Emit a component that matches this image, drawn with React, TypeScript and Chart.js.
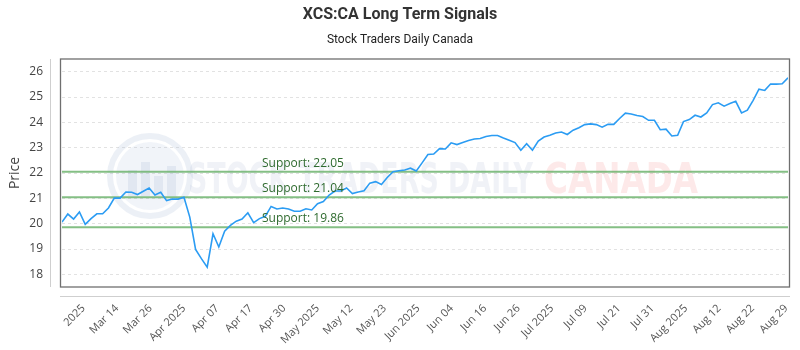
import React, { useEffect, useRef } from 'react';
import { Chart, registerables } from 'chart.js';

Chart.register(...registerables);

const chartTitle = 'XCS:CA Long Term Signals';
const chartSubtitle = 'Stock Traders Daily Canada';
const yAxisTitle = 'Price';

const priceValues = [
  20.06, 20.38, 20.18, 20.46, 19.97, 20.20, 20.39, 20.39, 20.62, 21.01,
  21.01, 21.25, 21.24, 21.15, 21.28, 21.41, 21.13, 21.24, 20.91, 20.97,
  20.97, 21.04, 20.26, 18.98, 18.62, 18.28, 19.60, 19.08, 19.70, 19.93,
  20.10, 20.18, 20.43, 20.04, 20.20, 20.29, 20.68, 20.58, 20.62, 20.58,
  20.49, 20.49, 20.59, 20.54, 20.79, 20.87, 21.13, 21.29, 21.29, 21.41,
  21.19, 21.25, 21.30, 21.60, 21.66, 21.55, 21.82, 22.05, 22.09, 22.12,
  22.19, 22.08, 22.40, 22.73, 22.75, 22.96, 22.95, 23.19, 23.12, 23.20,
  23.28, 23.34, 23.36, 23.44, 23.48, 23.48, 23.38, 23.29, 23.20, 22.90,
  23.16, 22.90, 23.26, 23.42, 23.49, 23.58, 23.62, 23.52, 23.69, 23.79,
  23.91, 23.94, 23.91, 23.81, 23.92, 23.92, 24.15, 24.36, 24.33, 24.27,
  24.23, 24.08, 24.08, 23.71, 23.73, 23.46, 23.49, 24.03, 24.11, 24.28,
  24.21, 24.37, 24.70, 24.77, 24.64, 24.74, 24.83, 24.37, 24.48, 24.87,
  25.31, 25.26, 25.51, 25.51, 25.52, 25.76,
];

const xTickLabels = [
  '2025', 'Mar 14', 'Mar 26', 'Apr 2025', 'Apr 07', 'Apr 17', 'Apr 30',
  'May 2025', 'May 12', 'May 23', 'Jun 2025', 'Jun 04', 'Jun 16', 'Jun 26',
  'Jul 2025', 'Jul 09', 'Jul 21', 'Jul 31', 'Aug 2025', 'Aug 12', 'Aug 22', 'Aug 29',
];

const yTickValues = [18, 19, 20, 21, 22, 23, 24, 25, 26];
const supportLevels = [22.05, 21.04, 19.86];

const Y_MIN = 17.5;
const Y_MAX = 26.5;
const FIRST_TICK_INDEX = 3.7;

export default function App() {
  const canvasRef = useRef<HTMLCanvasElement | null>(null);

  useEffect(() => {
    document.body.style.margin = '0';
    const canvas = canvasRef.current;
    if (!canvas) return;

    const lastIndex = priceValues.length - 1;
    const tickStep = (lastIndex - 0.3 - FIRST_TICK_INDEX) / (xTickLabels.length - 1);
    const xTickPositions = xTickLabels.map((_, i) => FIRST_TICK_INDEX + i * tickStep);

    const decorPlugin = {
      id: 'decor',
      beforeDatasetsDraw(chart: any) {
        const ctx = chart.ctx;
        const ca = chart.chartArea;
        ctx.save();
        ctx.beginPath();
        ctx.rect(ca.left, ca.top, ca.right - ca.left, ca.bottom - ca.top);
        ctx.clip();
        // watermark logo
        ctx.strokeStyle = 'rgba(170,185,215,0.22)';
        ctx.lineWidth = 6;
        ctx.beginPath();
        ctx.arc(150, 176, 40, 0, Math.PI * 2);
        ctx.stroke();
        ctx.fillStyle = 'rgba(170,185,215,0.16)';
        ctx.beginPath();
        ctx.arc(150, 176, 34, 0, Math.PI * 2);
        ctx.fill();
        ctx.fillStyle = 'rgba(170,185,215,0.22)';
        ctx.fillRect(128, 170, 9, 26);
        ctx.fillRect(141, 162, 9, 34);
        ctx.fillRect(154, 176, 9, 20);
        ctx.fillRect(167, 166, 9, 30);
        // watermark text
        ctx.font = 'bold 42px "Liberation Sans Narrow", "DejaVu Sans Condensed", sans-serif';
        ctx.textBaseline = 'alphabetic';
        ctx.textAlign = 'left';
        const t1 = 'STOCK TRADERS DAILY';
        const w1 = ctx.measureText(t1).width;
        ctx.save();
        ctx.translate(188, 193);
        ctx.scale(345 / w1, 1);
        ctx.fillStyle = 'rgba(180,192,215,0.2)';
        ctx.fillText(t1, 0, 0);
        ctx.restore();
        const t2 = 'CANADA';
        const w2 = ctx.measureText(t2).width;
        ctx.save();
        ctx.translate(544, 193);
        ctx.scale(154 / w2, 1);
        ctx.fillStyle = 'rgba(240,120,120,0.16)';
        ctx.fillText(t2, 0, 0);
        ctx.restore();
        ctx.restore();
      },
      afterDatasetsDraw(chart: any) {
        const ctx = chart.ctx;
        const y = chart.scales.y;
        ctx.save();
        ctx.font = '12px "Open Sans", sans-serif';
        ctx.fillStyle = '#2f6b2f';
        ctx.textAlign = 'left';
        ctx.textBaseline = 'alphabetic';
        supportLevels.forEach((lvl) => {
          const py = y.getPixelForValue(lvl);
          ctx.fillText('Support: ' + lvl.toFixed(2), 262, py - 5);
        });
        ctx.restore();
      },
      afterDraw(chart: any) {
        const ctx = chart.ctx;
        const ca = chart.chartArea;
        ctx.save();
        ctx.fillStyle = '#333';
        ctx.textAlign = 'center';
        ctx.textBaseline = 'middle';
        ctx.font = 'bold 16px Roboto, sans-serif';
        ctx.fillText(chartTitle, 400, 15);
        ctx.font = '12px Roboto, sans-serif';
        ctx.fillStyle = '#222';
        ctx.fillText(chartSubtitle, 400, 40);
        ctx.strokeStyle = '#cfcfcf';
        ctx.lineWidth = 1;
        ctx.beginPath();
        ctx.moveTo(50.5, ca.top);
        ctx.lineTo(50.5, ca.bottom);
        ctx.moveTo(ca.left - 2, 296.5);
        ctx.lineTo(ca.right + 2, 296.5);
        ctx.stroke();
        ctx.strokeStyle = '#6f6f6f';
        ctx.lineWidth = 1.3;
        ctx.strokeRect(ca.left - 1.5, ca.top, ca.right - ca.left + 3, ca.bottom - ca.top);
        ctx.restore();
      },
    };

    const chart = new Chart(canvas, {
      type: 'line',
      data: {
        datasets: [
          {
            label: 'Price',
            data: priceValues.map((v, i) => ({ x: i, y: v })),
            borderColor: '#2b9cf3',
            borderWidth: 1.6,
            pointRadius: 0,
            tension: 0,
            fill: false,
          },
          ...supportLevels.map((lvl) => ({
            label: 'Support ' + lvl,
            data: [
              { x: 0, y: lvl },
              { x: lastIndex, y: lvl },
            ],
            borderColor: 'rgba(110,180,110,0.85)',
            borderWidth: 2,
            pointRadius: 0,
            fill: false,
          })),
        ],
      },
      options: {
        responsive: false,
        animation: false,
        devicePixelRatio: 1,
        layout: { padding: { top: 59, right: 12, left: 0, bottom: 0 } },
        plugins: {
          legend: { display: false },
          title: { display: false },
          tooltip: { enabled: false },
        },
        scales: {
          x: {
            type: 'linear',
            min: 0,
            max: lastIndex,
            grid: { display: false, drawTicks: false },
            border: { display: false },
            afterBuildTicks: (scale: any) => {
              scale.ticks = xTickPositions.map((v) => ({ value: v }));
            },
            afterFit: (scale: any) => {
              scale.height = 63;
              scale.paddingLeft = 0;
              scale.paddingRight = 0;
            },
            ticks: {
              autoSkip: false,
              minRotation: 45,
              maxRotation: 45,
              padding: 15,
              color: '#555',
              font: { family: '"Open Sans", sans-serif', size: 11 },
              callback: (_v: any, i: number) => xTickLabels[i],
            },
          },
          y: {
            type: 'linear',
            min: Y_MIN,
            max: Y_MAX,
            afterBuildTicks: (scale: any) => {
              scale.ticks = yTickValues.map((v) => ({ value: v }));
            },
            afterFit: (scale: any) => {
              scale.width = 62;
              scale.paddingTop = 0;
              scale.paddingBottom = 0;
            },
            grid: {
              color: '#e2e2e2',
              drawTicks: false,
            },
            border: { display: false, dash: [3, 3] },
            ticks: {
              padding: 19,
              color: '#444',
              font: { family: '"Open Sans", sans-serif', size: 12 },
            },
            title: {
              display: true,
              text: yAxisTitle,
              color: '#444',
              font: { family: '"Open Sans", sans-serif', size: 14 },
              padding: { top: 7, bottom: 4 },
            },
          },
        },
      },
      plugins: [decorPlugin],
    });

    return () => chart.destroy();
  }, []);

  return (
    <div style={{ width: 800, height: 350, position: 'relative' }}>
      <canvas ref={canvasRef} width={800} height={350} style={{ display: 'block' }} />
    </div>
  );
}
